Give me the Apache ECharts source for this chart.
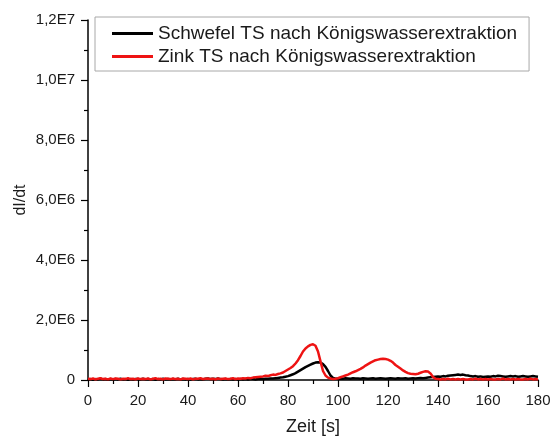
<!DOCTYPE html>
<html>
<head>
<meta charset="utf-8">
<script src="https://cdn.jsdelivr.net/npm/echarts@6/dist/echarts.min.js"></script>
<style>
  html, body { margin: 0; padding: 0; background: #fff; }
  #chart { width: 552px; height: 436px; }
</style>
</head>
<body>
<div id="chart"></div>
<script>
// Time axis: one sample per second, 0..180 s
const zeitStart = 0;
const zeitEnde = 180;

// dI/dt signals in units of 1E6 (one value per second)
const schwefelMio = [
  0.02,0.03,0.01,0.03,0.02,0.04,0.02,0.03,0.01,0.03,
  0.02,0.03,0.02,0.04,0.02,0.03,0.01,0.03,0.02,0.03,
  0.03,0.02,0.04,0.02,0.03,0.02,0.03,0.01,0.03,0.02,
  0.04,0.02,0.03,0.02,0.03,0.02,0.04,0.02,0.03,0.02,
  0.03,0.02,0.03,0.04,0.02,0.03,0.02,0.04,0.05,0.03,
  0.04,0.03,0.05,0.03,0.02,0.03,0.02,0.03,0.02,0.03,
  0.02,0.03,0.02,0.03,0.02,0.03,0.03,0.02,0.03,0.03,
  0.03,0.04,0.04,0.05,0.05,0.06,0.07,0.08,0.09,0.11,
  0.13,0.16,0.19,0.23,0.28,0.33,0.38,0.43,0.47,0.51,
  0.55,0.58,0.59,0.58,0.53,0.44,0.30,0.15,0.07,0.04,
  0.04,0.05,0.04,0.06,0.05,0.04,0.06,0.05,0.05,0.04,
  0.06,0.05,0.04,0.05,0.06,0.04,0.05,0.06,0.05,0.04,
  0.05,0.06,0.05,0.04,0.06,0.05,0.05,0.06,0.04,0.05,
  0.06,0.05,0.06,0.07,0.06,0.07,0.08,0.09,0.10,0.11,
  0.12,0.11,0.13,0.12,0.14,0.15,0.16,0.17,0.18,0.17,
  0.18,0.16,0.15,0.13,0.12,0.13,0.11,0.12,0.10,0.11,
  0.12,0.11,0.13,0.12,0.14,0.13,0.12,0.11,0.12,0.13,
  0.12,0.13,0.11,0.12,0.13,0.12,0.11,0.12,0.13,0.12,0.11
];

const zinkMio = [
  0.04,0.03,0.05,0.02,0.04,0.06,0.03,0.04,0.02,0.05,
  0.03,0.05,0.04,0.02,0.04,0.03,0.06,0.03,0.04,0.02,
  0.05,0.03,0.04,0.03,0.05,0.02,0.04,0.06,0.03,0.04,
  0.02,0.05,0.04,0.03,0.05,0.03,0.04,0.02,0.05,0.04,
  0.03,0.05,0.02,0.04,0.04,0.06,0.03,0.04,0.05,0.03,
  0.04,0.02,0.05,0.03,0.04,0.05,0.03,0.04,0.06,0.03,
  0.05,0.04,0.06,0.05,0.07,0.06,0.08,0.09,0.10,0.11,
  0.12,0.14,0.13,0.16,0.18,0.17,0.20,0.22,0.25,0.30,
  0.35,0.40,0.46,0.55,0.66,0.80,0.95,1.05,1.12,1.17,
  1.19,1.14,0.95,0.62,0.30,0.15,0.08,0.05,0.03,0.04,
  0.06,0.09,0.12,0.15,0.18,0.22,0.26,0.29,0.33,0.37,
  0.42,0.48,0.53,0.58,0.62,0.66,0.68,0.70,0.71,0.70,
  0.68,0.64,0.58,0.50,0.44,0.38,0.32,0.27,0.23,0.21,
  0.20,0.19,0.21,0.24,0.27,0.29,0.28,0.22,0.10,0.04,
  0.03,0.02,0.03,0.02,0.04,0.02,0.03,0.02,0.03,0.02,
  0.03,0.02,0.02,0.03,0.02,0.04,0.02,0.03,0.02,0.03,
  0.02,0.03,0.02,0.02,0.03,0.02,0.04,0.02,0.03,0.02,
  0.03,0.02,0.03,0.02,0.02,0.03,0.02,0.04,0.02,0.03,0.02
];

const seriesNames = [
  'Schwefel TS nach Königswasserextraktion',
  'Zink TS nach Königswasserextraktion'
];
const seriesColors = ['#000000', '#ee1313'];

const MIO = 1e6;
const toPairs = arr => arr.map((v, i) => [zeitStart + i, v * MIO]);

// "2,0E6" style labels for the intensity axis
function sciLabel(v) {
  if (v === 0) return '0';
  const exp = Math.floor(Math.log10(v));
  const mant = (v / Math.pow(10, exp)).toFixed(1).replace('.', ',');
  return mant + 'E' + exp;
}

const FONT = '"Liberation Sans", Arial, sans-serif';
const TEXT = '#1a1a1a';
const chart = echarts.init(document.getElementById('chart'), null, { renderer: 'canvas' });

chart.setOption({
  animation: false,
  backgroundColor: '#ffffff',
  grid: { left: 88, right: 14, top: 20, bottom: 56, containLabel: false, outerBoundsMode: 'none' },
  legend: {
    left: 95,
    top: 17,
    orient: 'vertical',
    padding: [6, 12, 4, 17],
    itemGap: 2,
    itemWidth: 41,
    itemHeight: 3,
    icon: 'rect',
    borderColor: '#a8a8a8',
    borderWidth: 1,
    backgroundColor: '#ffffff',
    textStyle: { fontFamily: FONT, fontSize: 19, color: TEXT, lineHeight: 21 },
    data: seriesNames
  },
  xAxis: {
    type: 'value',
    min: zeitStart,
    max: zeitEnde,
    interval: 20,
    name: 'Zeit [s]',
    nameLocation: 'middle',
    nameGap: 38,
    nameMoveOverlap: false,
    nameTextStyle: { fontFamily: FONT, fontSize: 18, color: TEXT },
    axisLine: { onZero: false, lineStyle: { color: '#000', width: 1.5 } },
    axisTick: { inside: false, length: 7, lineStyle: { color: '#000', width: 1.2 } },
    minorTick: { show: true, splitNumber: 2, length: 4, lineStyle: { color: '#000', width: 1.2 } },
    axisLabel: { fontFamily: FONT, fontSize: 15, color: TEXT, margin: 13 },
    splitLine: { show: false }
  },
  yAxis: {
    type: 'value',
    min: 0,
    max: 1.2e7,
    interval: 2e6,
    name: 'dI/dt',
    nameLocation: 'middle',
    nameGap: 59,
    nameMoveOverlap: false,
    nameTextStyle: { fontFamily: FONT, fontSize: 16, color: TEXT },
    axisLine: { show: true, lineStyle: { color: '#000', width: 1.5 } },
    axisTick: { show: true, inside: false, length: 7, lineStyle: { color: '#000', width: 1.2 } },
    minorTick: { show: true, splitNumber: 2, length: 4, lineStyle: { color: '#000', width: 1.2 } },
    axisLabel: { fontFamily: FONT, fontSize: 15, color: TEXT, margin: 13, formatter: sciLabel },
    splitLine: { show: false }
  },
  series: [
    {
      name: seriesNames[0],
      type: 'line',
      data: toPairs(schwefelMio),
      showSymbol: false,
      symbol: 'none',
      lineStyle: { color: seriesColors[0], width: 2.5 },
      itemStyle: { color: seriesColors[0] },
      z: 2
    },
    {
      name: seriesNames[1],
      type: 'line',
      data: toPairs(zinkMio),
      showSymbol: false,
      symbol: 'none',
      lineStyle: { color: seriesColors[1], width: 2.5 },
      itemStyle: { color: seriesColors[1] },
      z: 3
    }
  ]
});
</script>
</body>
</html>
